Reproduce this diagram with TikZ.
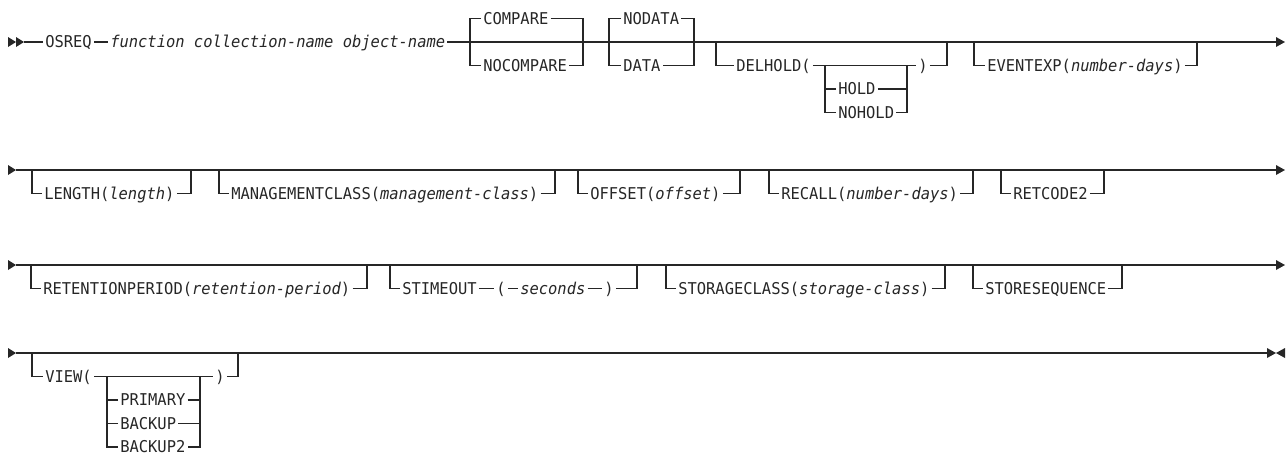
\documentclass[tikz,border=0pt]{standalone}
\usepackage{fontspec}
\newfontfamily\rrfont{DejaVu Sans Mono}[FakeStretch=0.95]
\begin{document}
\begin{tikzpicture}[x=0.75pt,y=-0.75pt,
  rr/.style={line width=0.9pt,draw=black!85},
  thk/.style={line width=2pt,draw=black!85},
  tipfill/.style={fill=black!85,draw=none},
  kw/.style={font=\rrfont\fontsize{12.2}{14}\selectfont, inner xsep=1.5pt, inner ysep=0pt,
             text height=8.9pt, text depth=0pt, anchor=west, text=black!85}]
\useasboundingbox (0,0) rectangle (1286,455);

% ---------------- Row 1 ----------------
\fill[tipfill] (8,37) -- (16,42) -- (8,47) -- cycle;
\fill[tipfill] (16,37) -- (24,42) -- (16,47) -- cycle;
\coordinate (s1) at (24,42);
\node[kw] (osreq) at (43,42) {OSREQ};
\node[kw] (fn) at (108,42) {\itshape function collection-name object-name};
\coordinate (e1) at (1276,42);
\fill[tipfill] (1276,37) -- (1285,42) -- (1276,47) -- cycle;
\draw[rr] (s1) -- (osreq.west);
\draw[rr] (osreq.east) -- (fn.west);
\draw[rr] (fn.east) -- (e1);

% COMPARE / NOCOMPARE
\coordinate (cl) at (470,42); \coordinate (cr) at (583,42);
\node[kw] (compare) at (481,18.5) {COMPARE};
\node[kw] (nocompare) at (481,65.5) {NOCOMPARE};
\draw[rr] (compare.west) -| (cl) |- (nocompare.west);
\draw[rr] (compare.east) -| (cr) |- (nocompare.east);

% NODATA / DATA
\coordinate (dal) at (609,42); \coordinate (dar) at (694,42);
\node[kw] (nodata) at (621,18.5) {NODATA};
\node[kw] (data) at (621,65.5) {DATA};
\draw[rr] (nodata.west) -| (dal) |- (data.west);
\draw[rr] (nodata.east) -| (dar) |- (data.east);

% DELHOLD
\coordinate (dl) at (716,42); \coordinate (dr) at (947,42);
\node[kw] (delhold) at (734,65.5) {DELHOLD(};
\node[kw] (drp) at (916,65.5) {)};
\coordinate (hl) at (825,65.5); \coordinate (hr) at (907,65.5);
\node[kw] (hold) at (836,89) {HOLD};
\node[kw] (nohold) at (836,112.5) {NOHOLD};
\draw[rr] (dl) |- (delhold.west);
\draw[rr] (delhold.east) -- (drp.west);
\draw[rr] (drp.east) -| (dr);
\draw[rr] (hl) |- (nohold.west);
\draw[rr] (hr) |- (nohold.east);
\draw[rr] (hold.west) -- (hold.west -| hl);
\draw[rr] (hold.east) -- (hold.east -| hr);

% EVENTEXP
\coordinate (el) at (974,42); \coordinate (er) at (1197,42);
\node[kw] (eventexp) at (985,65.5) {EVENTEXP(\itshape number-days\upshape)};
\draw[rr] (el) |- (eventexp.west);
\draw[rr] (eventexp.east) -| (er);

% ---------------- Row 2 ----------------
\fill[tipfill] (8,165) -- (16,170) -- (8,175) -- cycle;
\coordinate (s2) at (16,170);
\coordinate (e2) at (1276,170);
\fill[tipfill] (1276,165) -- (1285,170) -- (1276,175) -- cycle;
\draw[rr] (s2) -- (e2);

\coordinate (ll) at (32,170); \coordinate (lr) at (191,170);
\node[kw] (length) at (42,193.5) {LENGTH(\itshape length\upshape)};
\draw[rr] (ll) |- (length.west); \draw[rr] (length.east) -| (lr);

\coordinate (ml) at (219,170); \coordinate (mr) at (555,170);
\node[kw] (mgmt) at (229,193.5) {MANAGEMENTCLASS(\itshape management-class\upshape)};
\draw[rr] (ml) |- (mgmt.west); \draw[rr] (mgmt.east) -| (mr);

\coordinate (ol) at (578,170); \coordinate (or) at (740,170);
\node[kw] (offset) at (588,193.5) {OFFSET(\itshape offset\upshape)};
\draw[rr] (ol) |- (offset.west); \draw[rr] (offset.east) -| (or);

\coordinate (rl) at (769,170); \coordinate (rcr) at (973,170);
\node[kw] (recall) at (779,193.5) {RECALL(\itshape number-days\upshape)};
\draw[rr] (rl) |- (recall.west); \draw[rr] (recall.east) -| (rcr);

\coordinate (tl) at (1001,170); \coordinate (tr) at (1104,170);
\node[kw] (retcode) at (1011,193.5) {RETCODE2};
\draw[rr] (tl) |- (retcode.west); \draw[rr] (retcode.east) -| (tr);

% ---------------- Row 3 ----------------
\fill[tipfill] (8,260) -- (16,265) -- (8,270) -- cycle;
\coordinate (s3) at (16,265);
\coordinate (e3) at (1276,265);
\fill[tipfill] (1276,260) -- (1285,265) -- (1276,270) -- cycle;
\draw[rr] (s3) -- (e3);

\coordinate (pl) at (31,265); \coordinate (pr) at (367,265);
\node[kw] (retper) at (41,288.5) {RETENTIONPERIOD(\itshape retention-period\upshape)};
\draw[rr] (pl) |- (retper.west); \draw[rr] (retper.east) -| (pr);

\coordinate (sl) at (390,265); \coordinate (sr) at (637,265);
\node[kw] (stime) at (400,288.5) {STIMEOUT};
\node[kw] (slp) at (494,288.5) {(};
\node[kw] (secs) at (518,288.5) {\itshape seconds};
\node[kw] (srp) at (602,288.5) {)};
\draw[rr] (sl) |- (stime.west);
\draw[rr] (stime.east) -- (slp.west);
\draw[rr] (slp.east) -- (secs.west);
\draw[rr] (secs.east) -- (srp.west);
\draw[rr] (srp.east) -| (sr);

\coordinate (gl) at (666,265); \coordinate (gr) at (945,265);
\node[kw] (storcl) at (676,288.5) {STORAGECLASS(\itshape storage-class\upshape)};
\draw[rr] (gl) |- (storcl.west); \draw[rr] (storcl.east) -| (gr);

\coordinate (ql) at (973,265); \coordinate (qr) at (1122,265);
\node[kw] (storseq) at (983,288.5) {STORESEQUENCE};
\draw[rr] (ql) |- (storseq.west); \draw[rr] (storseq.east) -| (qr);

% ---------------- Row 4 ----------------
\fill[tipfill] (8,348) -- (16,353) -- (8,358) -- cycle;
\coordinate (s4) at (16,353);
\coordinate (vl) at (32,353); \coordinate (vr) at (238,353);
\coordinate (vk) at (260,353);
\coordinate (e4) at (1267,353);
\fill[tipfill] (1267,348) -- (1276,353) -- (1267,358) -- cycle;
\fill[tipfill] (1285,348) -- (1276,353) -- (1285,358) -- cycle;
\draw[rr] (s4) -- (e4);
\draw[thk] (vr) -- (vk);

\node[kw] (view) at (43,376.5) {VIEW(};
\node[kw] (vrp) at (213,376.5) {)};
\coordinate (il) at (107,376.5); \coordinate (ir) at (200,376.5);
\node[kw] (primary) at (118,400) {PRIMARY};
\node[kw] (backup) at (118,423.5) {BACKUP};
\node[kw] (backup2) at (118,447) {BACKUP2};
\draw[rr] (vl) |- (view.west);
\draw[rr] (view.east) -- (vrp.west);
\draw[rr] (vrp.east) -| (vr);
\draw[rr] (il) |- (backup2.west);
\draw[rr] (ir) |- (backup2.east);
\draw[rr] (primary.west) -- (primary.west -| il);
\draw[rr] (primary.east) -- (primary.east -| ir);
\draw[rr] (backup.west) -- (backup.west -| il);
\draw[rr] (backup.east) -- (backup.east -| ir);
\end{tikzpicture}
\end{document}
